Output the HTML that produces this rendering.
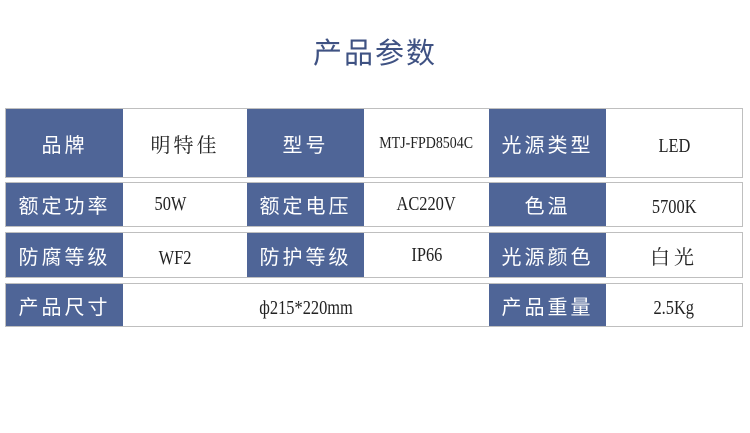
<!DOCTYPE html>
<html><head><meta charset="utf-8"><style>
body{margin:0;width:750px;height:433px;background:#fff;position:relative;overflow:hidden;font-family:"Liberation Serif","Noto Serif CJK SC",serif}
.t{position:absolute;left:0;width:750px;top:30px;text-align:center;font-size:29px;color:#3f5283;font-family:"Liberation Sans","Noto Sans CJK SC",sans-serif;letter-spacing:2px}
.row{position:absolute;left:5px;width:736px;border:1px solid #bfbfbf;background:#fff}
.c{position:absolute;top:0;bottom:0;display:flex;align-items:center;justify-content:center;font-size:20px;color:#222}
.c span{display:inline-block;transform:scaleX(0.82)}
.b{background:#4f6597;color:#fff;font-family:"Liberation Sans","Noto Sans CJK SC",sans-serif;letter-spacing:3px}
</style></head><body>
<div class="t">产品参数</div>
<div class="row" style="top:108px;height:68px">
<div class="c b" style="left:0;width:117px">品牌</div>
<div class="c" style="left:117px;width:124px;letter-spacing:3px;font-family:'Noto Serif CJK SC',serif">明特佳</div>
<div class="c b" style="left:241px;width:117px">型号</div>
<div class="c" style="left:358px;width:125px;font-size:17px"><span>MTJ-FPD8504C</span></div>
<div class="c b" style="left:483px;width:117px">光源类型</div>
<div class="c" style="left:600px;width:136px;font-size:20px;padding-top:6px;box-sizing:border-box"><span>LED</span></div>
</div>
<div class="row" style="top:182px;height:43px">
<div class="c b" style="left:0;width:117px">额定功率</div>
<div class="c" style="left:117px;width:124px;justify-content:flex-start;padding-left:28px;font-size:20px"><span>50W</span></div>
<div class="c b" style="left:241px;width:117px">额定电压</div>
<div class="c" style="left:358px;width:125px;font-size:20px"><span>AC220V</span></div>
<div class="c b" style="left:483px;width:117px">色温</div>
<div class="c" style="left:600px;width:136px;font-size:20px;padding-top:6px;box-sizing:border-box"><span>5700K</span></div>
</div>
<div class="row" style="top:232px;height:44px">
<div class="c b" style="left:0;width:117px">防腐等级</div>
<div class="c" style="left:117px;width:124px;justify-content:flex-start;padding-left:32px;font-size:20px;padding-top:6px;box-sizing:border-box"><span>WF2</span></div>
<div class="c b" style="left:241px;width:117px">防护等级</div>
<div class="c" style="left:358px;width:125px;font-size:20px"><span>IP66</span></div>
<div class="c b" style="left:483px;width:117px">光源颜色</div>
<div class="c" style="left:600px;width:136px;letter-spacing:4px;font-family:'Noto Serif CJK SC',serif">白光</div>
</div>
<div class="row" style="top:283px;height:42px">
<div class="c b" style="left:0;width:117px">产品尺寸</div>
<div class="c" style="left:117px;width:366px;font-size:20px;padding-top:6px;box-sizing:border-box"><span>ф215*220mm</span></div>
<div class="c b" style="left:483px;width:117px">产品重量</div>
<div class="c" style="left:600px;width:136px;font-size:20px;padding-top:6px;box-sizing:border-box"><span>2.5Kg</span></div>
</div>
</body></html>
